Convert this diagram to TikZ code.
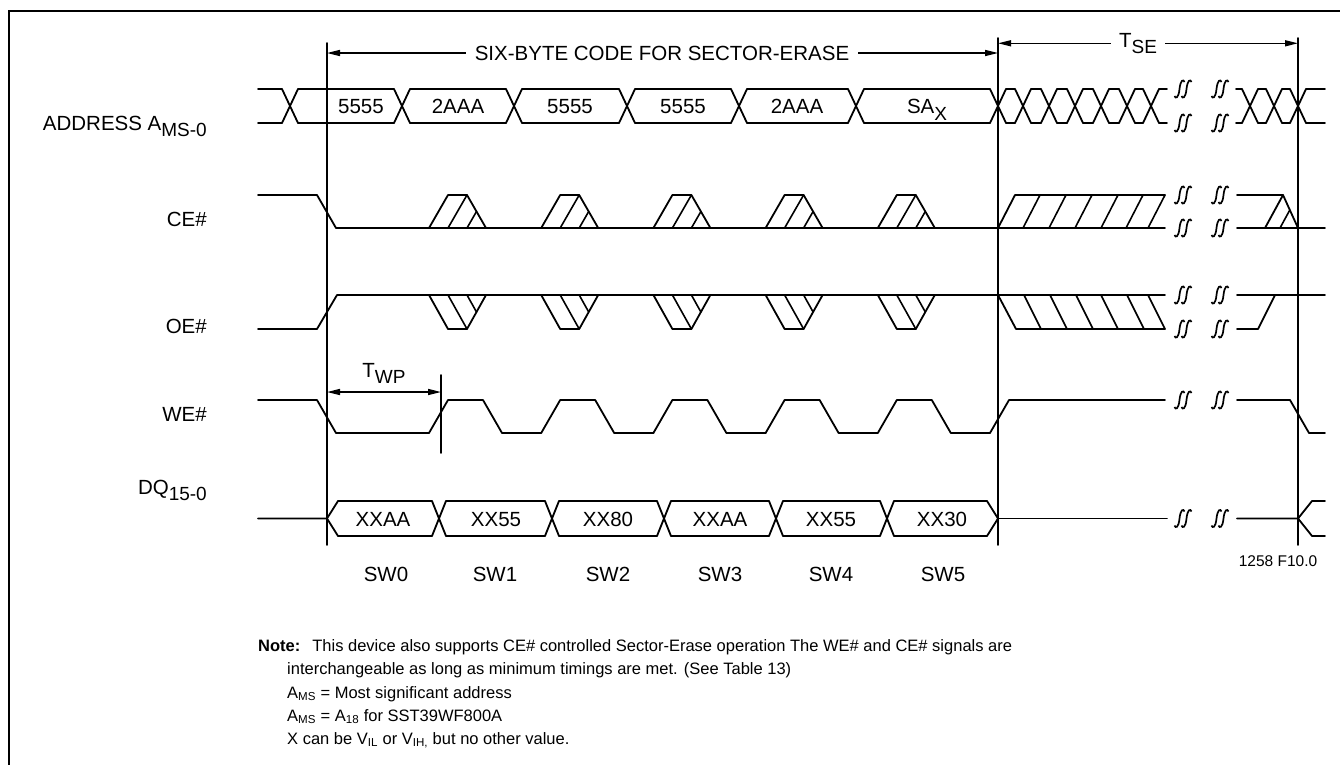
\documentclass[tikz,border=0pt]{standalone}
\usepackage{fontspec}
\setmainfont{Liberation Sans}
\usetikzlibrary{arrows.meta,positioning}

\tikzset{
  sig/.style={line width=1.8pt,line join=round,line cap=round},
  hatch/.style={line width=1.6pt,line cap=round},
  lbl/.style={inner sep=0pt,font=\fontsize{20.5}{24}\selectfont},
  notetext/.style={inner sep=0pt,anchor=base west,font=\fontsize{16.5}{20}\selectfont},
  tipend/.style={line width=1.4pt,-{Triangle[length=13pt,width=6pt]}},
  tipboth/.style={line width=1.4pt,{Triangle[length=13pt,width=6pt]}-{Triangle[length=13pt,width=6pt]}},
  brk/.pic={
    \draw[line width=1.7pt] (-8.5,7) .. controls (-7.5,10) and (-4.5,9.5) .. (-3.5,0) .. controls (-2.5,-9.5) and (0.5,-10) .. (1.5,-7);
    \draw[line width=1.7pt] (-1.5,7) .. controls (-0.5,10) and (2.5,9.5) .. (3.5,0) .. controls (4.5,-9.5) and (7.5,-10) .. (8.5,-7);
  }
}
\newcommand{\lowsub}[1]{\raisebox{-6.5pt}{\fontsize{19}{22}\selectfont #1}}
% crossing of a bus: centre, top, bottom, half width
\newcommand{\busx}[4]{\draw[sig] ({#1-#4},#2) -- ({#1+#4},#3) ({#1-#4},#3) -- ({#1+#4},#2);}
% both lines of a bus: from, to, top, bottom
\newcommand{\busl}[4]{\draw[sig] (#1,#3) -- (#2,#3) (#1,#4) -- (#2,#4);}

\begin{document}
\begin{tikzpicture}[x=1pt,y=-1pt]
\useasboundingbox (0,0) rectangle (1340,764);

% frame
\draw[line width=2.4pt] (9,780) -- (9,11) -- (1350,11);

% time markers
\coordinate (v1t) at (327,43); \coordinate (v1b) at (327,545);
\coordinate (v2t) at (998,38); \coordinate (v2b) at (998,545);
\coordinate (v3t) at (1298,38); \coordinate (v3b) at (1298,545);
\draw[sig] (v1t) -- (v1b) (v2t) -- (v2b) (v3t) -- (v3b);

% dimension arrows
\node[lbl,inner xsep=9pt] (six) at (662,53) {SIX-BYTE CODE FOR SECTOR-ERASE};
\draw[tipend] (six.west) -- (six.west -| v1t);
\draw[tipend] (six.east) -- (six.east -| v2t);
\node[lbl,inner xsep=8pt,anchor=base] (tse) at (1138,47) {T\lowsub{SE}};
\draw[tipend] (tse.west) -- (tse.west -| v2t);
\draw[tipend] (tse.east) -- (tse.east -| v3t);
\coordinate (twpl) at (327,392); \coordinate (twpr) at (441,392);
\draw[sig] (441,375) -- (441,453);
\draw[tipboth] (twpl) -- (twpr);
\node[lbl,anchor=base] (twp) at (384,377) {T\lowsub{WP}};

% signal names
\node[lbl,anchor=base east] (addr) at (207,130) {ADDRESS A\lowsub{MS-0}};
\node[lbl,anchor=base east] (ce) at (207,226) {CE\#};
\node[lbl,anchor=base east] (oe) at (207,333) {OE\#};
\node[lbl,anchor=base east] (we) at (207,421) {WE\#};
\node[lbl,anchor=base east] (dq) at (207,494) {DQ\lowsub{15-0}};

% ADDRESS
\busl{258}{282}{89}{123}
\foreach \c in {290,402,514,627,739,856,998} {\busx{\c}{89}{123}{8}}
\foreach \a/\b in {298/394,410/506,522/619,635/731,747/848,864/990} {\busl{\a}{\b}{89}{123}}
\foreach \x/\t [count=\i] in {361/5555,458/2AAA,570/5555,683/5555,797/2AAA} {\node[lbl,anchor=base] (adr\i) at (\x,113.5) {\t};}
\node[lbl,anchor=base] (adr6) at (927,113.5) {SA\lowsub{X}};
\foreach \c in {1023,1049,1075,1101,1127,1151} {\busx{\c}{89}{123}{8}}
\foreach \a/\b in {1006/1015,1031/1041,1057/1067,1083/1093,1109/1119,1135/1143,1159/1167} {\busl{\a}{\b}{89}{123}}
\foreach \c in {1250,1274,1298} {\busx{\c}{89}{123}{8}}
\foreach \a/\b in {1236/1242,1258/1266,1282/1290,1306/1325} {\busl{\a}{\b}{89}{123}}

% CE#
\draw[sig] (258,195) -- (317,195) -- (336,228) -- (1165,228);
\foreach \k in {0,...,4} {
  \pgfmathsetmacro\a{429+112.2*\k}
  \draw[sig] (\a,228) -- ({\a+19},195) -- ({\a+38},195) -- ({\a+57},228);
  \draw[hatch] ({\a+19},228) -- ({\a+38},195) ({\a+38},228) -- ({\a+47.5},211.5);
}
\draw[sig] (998,228) -- (1015,195) -- (1165,195);
\foreach \h in {1023,1049,1075,1101,1126,1148} {\draw[hatch] (\h,228) -- ({\h+17},195);}
\draw[sig] (1237,195) -- (1283,195) -- (1298,228) -- (1325,228);
\draw[sig] (1237,228) -- (1298,228) (1265,228) -- (1283,195);
\draw[hatch] (1280,228) -- (1289.8,210);

% OE#
\draw[sig] (258,329) -- (317,329) -- (337,295) -- (1165,295);
\foreach \k in {0,...,4} {
  \pgfmathsetmacro\a{429+112.2*\k}
  \draw[sig] (\a,295) -- ({\a+19},329) -- ({\a+38},329) -- ({\a+57},295);
  \draw[hatch] ({\a+19},295) -- ({\a+38},329) ({\a+38},295) -- ({\a+47.5},312);
}
\draw[sig] (998,295) -- (1016,329) -- (1165,329);
\foreach \h in {1024,1050,1076,1101,1127,1148} {\draw[hatch] (\h,295) -- ({\h+17},329);}
\draw[sig] (1237,295) -- (1325,295);
\draw[sig] (1237,329) -- (1258,329) -- (1275,295);

% WE#
\draw[sig] (258,400) -- (317,400) -- (336,433) -- (429,433);
\foreach \k in {0,...,4} {
  \pgfmathsetmacro\a{429+112.2*\k}
  \draw[sig] (\a,433) -- ({\a+19},400) -- ({\a+54},400) -- ({\a+73},433) -- ({\a+112.2},433);
}
\draw[sig] (990,433) -- (1009,400) -- (1165,400);
\draw[sig] (1237,400) -- (1290,400) -- (1309,433) -- (1325,433);

% DQ
\draw[sig] (258,518.5) -- (327,518.5) -- (338,501) (327,518.5) -- (338,536);
\foreach \c in {439,552,664,776,887} {\busx{\c}{501}{536}{7}}
\foreach \a/\b in {338/432,446/545,559/657,671/769,783/880,894/987} {\busl{\a}{\b}{501}{536}}
\draw[sig] (987,501) -- (998,518.5) -- (987,536);
\draw[sig] (998,518.5) -- (1167,518.5);
\draw[sig] (1237,518.5) -- (1298,518.5) -- (1312,501) -- (1325,501) (1298,518.5) -- (1312,536) -- (1325,536);
\foreach \x/\t [count=\i] in {383/XXAA,496/XX55,608/XX80,720/XXAA,831/XX55,942/XX30} {\node[lbl,anchor=base] (dat\i) at (\x,526) {\t};}

% breaks
\foreach \y in {89,123,195,228,295,329,400,518.5} {
  \foreach \x in {1183,1220} {\pic at (\x,\y) {brk};}
}

% bus cycles
\foreach \n/\x in {0/386,1/495,2/608,3/720,4/831,5/943} {\node[lbl,anchor=base] (sw\n) at (\x,581.5) {SW\n};}
\node[inner sep=0pt,font=\fontsize{15.5}{18}\selectfont] (figid) at (1278,561) {1258 F10.0};

% note
\node[notetext] (note1) at (258,651) {\textbf{Note:}\hspace{12pt}This device also supports CE\# controlled Sector-Erase operation The WE\# and CE\# signals are};
\node[notetext] (note2) at (287,674) {interchangeable as long as minimum timings are met. (See Table 13)};
\node[notetext] (note3) at (287,698) {A\textsubscript{MS} = Most significant address};
\node[notetext] (note4) at (287,721) {A\textsubscript{MS} = A\textsubscript{18} for SST39WF800A};
\node[notetext] (note5) at (287,744) {X can be V\textsubscript{IL} or V\textsubscript{IH,} but no other value.};
\end{tikzpicture}
\end{document}
